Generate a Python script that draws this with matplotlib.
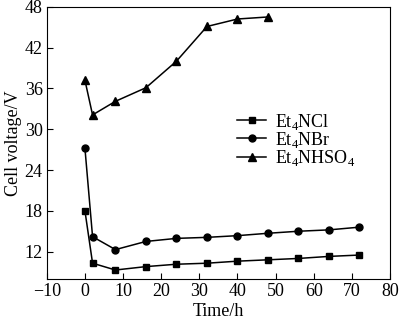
import matplotlib
matplotlib.use("Agg")
import matplotlib.pyplot as plt

plt.rcParams["font.family"] = ["Liberation Serif", "DejaVu Serif"]
plt.rcParams["mathtext.fontset"] = "custom"
plt.rcParams["mathtext.rm"] = "Liberation Serif"

# time points (h)
t_cl = [0, 2, 8, 16, 24, 32, 40, 48, 56, 64, 72]
v_cl = [18.0, 10.3, 9.3, 9.8, 10.15, 10.3, 10.6, 10.8, 11.0, 11.3, 11.5]

t_br = [0, 2, 8, 16, 24, 32, 40, 48, 56, 64, 72]
v_br = [27.2, 14.2, 12.3, 13.5, 13.95, 14.1, 14.35, 14.7, 15.0, 15.2, 15.6]

t_hso4 = [0, 2, 8, 16, 24, 32, 40, 48]
v_hso4 = [37.2, 32.1, 34.1, 36.1, 40.0, 45.1, 46.2, 46.5]

labels = ["Et$_4$NCl", "Et$_4$NBr", "Et$_4$NHSO$_4$"]
xticks = [-10, 0, 10, 20, 30, 40, 50, 60, 70, 80]
yticks = [12, 18, 24, 30, 36, 42, 48]

fig = plt.figure(figsize=(4.0, 3.22), dpi=100)
ax = fig.add_axes([0.117, 0.134, 0.858, 0.845])

ax.plot(t_cl, v_cl, "k-s", ms=5, lw=1.1, label=labels[0])
ax.plot(t_br, v_br, "k-o", ms=5, lw=1.1, label=labels[1])
ax.plot(t_hso4, v_hso4, "k-^", ms=5.5, lw=1.1, label=labels[2])

ax.set_xlim(-10, 80)
ax.set_ylim(8, 48)
ax.set_xticks(xticks)
ax.set_yticks(yticks)
ax.tick_params(direction="in", labelsize=13, length=4, width=0.8, pad=3)
ax.set_xlabel("Time/h", fontsize=13, labelpad=2)
ax.set_ylabel("Cell voltage/V", fontsize=13, labelpad=2)
for s in ax.spines.values():
    s.set_linewidth(0.8)

ax.legend(loc="upper left", bbox_to_anchor=(0.555, 0.615), frameon=False,
          fontsize=13, handlelength=1.6, handletextpad=0.5, labelspacing=-0.1,
          borderaxespad=0, borderpad=0)

fig.savefig("out.png", dpi=100)
